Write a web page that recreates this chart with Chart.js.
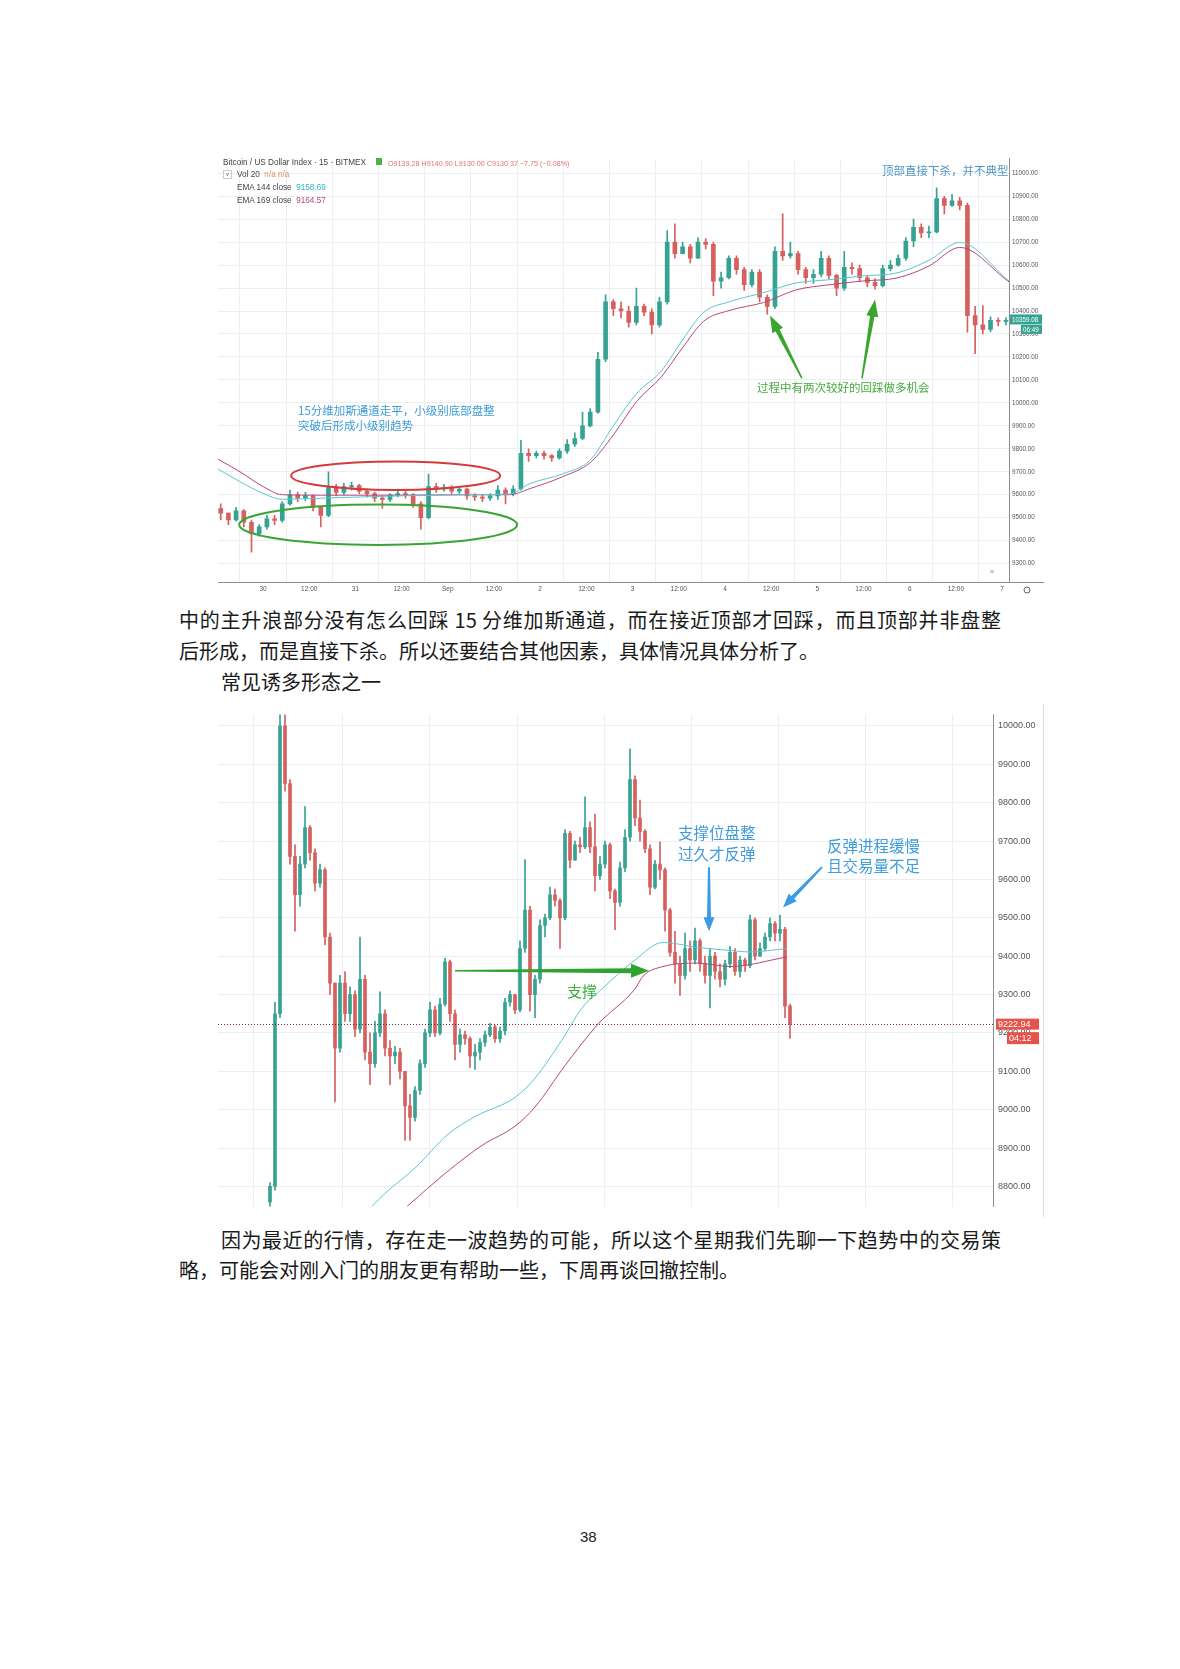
<!DOCTYPE html>
<html>
<head>
<meta charset="utf-8">
<script src="https://cdn.jsdelivr.net/npm/chart.js@4.4.0/dist/chart.umd.min.js"></script>
<style>
  body { margin: 0; background: #fff; width: 1180px; height: 1669px; position: relative; overflow: hidden;
         font-family: "Noto Sans CJK SC", sans-serif; }
  .abs { position: absolute; white-space: nowrap; }
  .para { font-size: 20px; line-height: 20px; color: #1a1a1a; }
  .just { text-align: justify; text-align-last: justify; }
  .hdr { font-family: "Liberation Sans", sans-serif; font-size: 8.2px; line-height: 9px; color: #444; }
  .note1 { font-size: 11.5px; line-height: 12px; }
  .note2 { font-size: 15.5px; line-height: 16px; }
  .box { position: absolute; }
</style>
</head>
<body>

<!-- chart 1 -->
<div class="box" style="left:218px; top:152px; width:826px; height:445px;"><canvas id="btc"></canvas></div>
<div class="abs hdr" style="left:223px; top:158px;">Bitcoin / US Dollar Index · 15 · BITMEX</div>
<div class="abs" style="left:376px; top:158px; width:6px; height:7px; background:#4caf50;"></div>
<div class="abs hdr" style="left:388px; top:159px; font-size:7.2px; color:#e07272;">O9139.28 H9140.90 L9130.00 C9130.37 −7.75 (−0.08%)</div>
<div class="abs" style="left:223px; top:170px; width:7px; height:7px; border:1px solid #ccc; font:6px 'Liberation Sans'; line-height:7px; text-align:center; color:#666;">v</div>
<div class="abs hdr" style="left:237px; top:170px;">Vol 20 <span style="color:#e08c5a;">&nbsp;n/a n/a</span></div>
<div class="abs hdr" style="left:237px; top:183px;">EMA 144 close <span style="color:#2bb3c0;">&nbsp;9158.69</span></div>
<div class="abs hdr" style="left:237px; top:196px;">EMA 169 close <span style="color:#b4457c;">&nbsp;9164.57</span></div>
<div class="abs note1" style="left:882px; top:164px; color:#4f96c8;">顶部直接下杀，并不典型</div>
<div class="abs note1" style="left:298px; top:404px; color:#3d9bd6;">15分维加斯通道走平，小级别底部盘整</div>
<div class="abs note1" style="left:298px; top:419px; color:#3d9bd6;">突破后形成小级别趋势</div>
<div class="abs note1" style="left:757px; top:381px; color:#45ad3e;">过程中有两次较好的回踩做多机会</div>

<!-- text between charts -->
<div class="abs para just" style="left:179px; top:610px; width:822px;">中的主升浪部分没有怎么回踩 15 分维加斯通道，而在接近顶部才回踩，而且顶部并非盘整</div>
<div class="abs para" style="left:179px; top:641px;">后形成，而是直接下杀。所以还要结合其他因素，具体情况具体分析了。</div>
<div class="abs para" style="left:221px; top:672px;">常见诱多形态之一</div>

<!-- chart 2 -->
<div class="box" style="left:218px; top:704px; width:826px; height:513px;"><canvas id="eth"></canvas></div>
<div class="abs note2" style="left:678px; top:824px; color:#3f9ddc;">支撑位盘整</div>
<div class="abs note2" style="left:678px; top:845px; color:#3f9ddc;">过久才反弹</div>
<div class="abs note2" style="left:827px; top:837px; color:#3f9ddc;">反弹进程缓慢</div>
<div class="abs note2" style="left:827px; top:857px; color:#3f9ddc;">且交易量不足</div>
<div class="abs note2" style="left:567px; top:983px; color:#3cae3c; font-size:15px;">支撑</div>

<!-- text below -->
<div class="abs para just" style="left:221px; top:1230px; width:780px;">因为最近的行情，存在走一波趋势的可能，所以这个星期我们先聊一下趋势中的交易策</div>
<div class="abs para" style="left:179px; top:1260px;">略，可能会对刚入门的朋友更有帮助一些，下周再谈回撤控制。</div>
<div class="abs" style="left:580px; top:1528px; font:15px 'Liberation Sans'; color:#222;">38</div>

<script>
// ---- chart 1: BTC, 2h samples, x = hours since Aug 30 00:00 (first candle at -11h) ----
const btcClose = [9520, 9490, 9530, 9480, 9430, 9460, 9495, 9488, 9560, 9600,
  9585, 9595, 9545, 9510, 9635, 9610, 9635, 9640, 9615, 9605,
  9585, 9580, 9600, 9605, 9600, 9560, 9500, 9635, 9625, 9630,
  9615, 9625, 9595, 9590, 9585, 9595, 9620, 9605, 9625, 9780,
  9770, 9780, 9770, 9760, 9790, 9820, 9845, 9900, 9960, 10190,
  10440, 10410, 10400, 10350, 10420, 10395, 10340, 10440, 10700, 10650,
  10680, 10630, 10700, 10690, 10530, 10545, 10630, 10580, 10515, 10570,
  10460, 10420, 10660, 10640, 10650, 10580, 10545, 10560, 10630, 10555,
  10500, 10590, 10585, 10545, 10525, 10510, 10585, 10600, 10630, 10705,
  10765, 10740, 10745, 10890, 10860, 10880, 10860, 10380, 10340, 10320,
  10360, 10355, 10359.08];
const btcHigh = [9560, 9520, 9545, 9535, 9490, 9470, 9510, 9510, 9570, 9620,
  9612, 9610, 9600, 9550, 9700, 9645, 9650, 9655, 9645, 9625,
  9612, 9595, 9605, 9625, 9615, 9605, 9570, 9690, 9650, 9645,
  9640, 9635, 9630, 9605, 9600, 9605, 9640, 9630, 9640, 9837,
  9800, 9790, 9790, 9775, 9800, 9840, 9870, 9960, 9975, 10220,
  10470, 10450, 10440, 10420, 10500, 10430, 10410, 10460, 10750, 10780,
  10700, 10690, 10720, 10715, 10700, 10570, 10640, 10640, 10590, 10580,
  10580, 10470, 10680, 10823, 10700, 10660, 10590, 10580, 10660, 10640,
  10560, 10660, 10610, 10600, 10555, 10540, 10600, 10620, 10645, 10720,
  10800, 10780, 10770, 10937, 10900, 10908, 10895, 10870, 10420, 10424,
  10375, 10370, 10372];
const btcLow = [9490, 9470, 9485, 9460, 9350, 9420, 9450, 9470, 9480, 9555,
  9570, 9575, 9530, 9460, 9505, 9595, 9600, 9620, 9605, 9590,
  9570, 9540, 9570, 9590, 9585, 9545, 9450, 9495, 9610, 9615,
  9605, 9605, 9580, 9575, 9570, 9575, 9580, 9560, 9595, 9620,
  9745, 9760, 9755, 9745, 9755, 9780, 9810, 9840, 9895, 9955,
  10180, 10380, 10370, 10330, 10340, 10380, 10300, 10330, 10430, 10630,
  10650, 10610, 10630, 10670, 10467, 10500, 10540, 10560, 10490, 10505,
  10440, 10386, 10410, 10620, 10630, 10560, 10520, 10520, 10550, 10540,
  10467, 10490, 10560, 10530, 10505, 10495, 10505, 10575, 10595, 10620,
  10680, 10720, 10720, 10740, 10823, 10855, 10840, 10308, 10214, 10300,
  10310, 10335, 10340];
const btcFirstOpen = 9540;
const btcEmaHours = [-11.7, -6, 0, 5, 15, 35.6, 54, 64, 69.4, 77.9, 85, 91, 97, 103.6, 108.8, 114.5, 121.3, 130, 138.7, 147, 156, 164.7, 173, 181, 193.8];
const btcEma144 = [9712, 9657, 9606, 9580, 9585, 9595, 9600, 9603, 9649, 9691, 9751, 9900, 10040, 10141, 10270, 10394, 10441, 10480, 10523, 10536, 10553, 10566, 10621, 10699, 10531];
const btcEma169 = [9755, 9700, 9636, 9600, 9598, 9598, 9600, 9600, 9627, 9679, 9740, 9860, 10005, 10116, 10236, 10356, 10403, 10437, 10493, 10514, 10531, 10544, 10596, 10677, 10527];
const btcTickHours = [0, 12, 24, 36, 48, 60, 72, 84, 96, 108, 120, 132, 144, 156, 168, 180, 192];
const btcTickLabels = ['30', '12:00', '31', '12:00', 'Sep', '12:00', '2', '12:00', '3', '12:00', '4', '12:00', '5', '12:00', '6', '12:00', '7'];
const btcPriceTicks = [9300, 9400, 9500, 9600, 9700, 9800, 9900, 10000, 10100, 10200, 10300, 10400, 10500, 10600, 10700, 10800, 10900, 11000];

// ---- chart 2: candle index, grid times ----
const ethClose = [8800, 9250, 10000, 9850, 9660, 9560, 9640, 9735, 9670, 9590,
  9625, 9450, 9330, 9160, 9330, 9250, 9300, 9210, 9340, 9150,
  9120, 9200, 9250, 9160, 9140, 9150, 9100, 9010, 8980, 9050,
  9120, 9200, 9260, 9200, 9275, 9385, 9250, 9170, 9195, 9185,
  9140, 9150, 9175, 9195, 9215, 9185, 9205, 9280, 9300, 9260,
  9420, 9520, 9300, 9340, 9480, 9500, 9560, 9545, 9500, 9720,
  9650, 9690, 9685, 9735, 9685, 9610, 9640, 9690, 9570, 9540,
  9630, 9710, 9860, 9760, 9725, 9680, 9580, 9640, 9625, 9520,
  9410, 9380, 9350, 9420, 9390, 9440, 9380, 9350, 9400, 9360,
  9340, 9380, 9410, 9360, 9390, 9375, 9495, 9400, 9420, 9450,
  9485, 9460, 9470, 9270, 9222.94];
const ethHigh = [8810, 9280, 10040, 10030, 9860, 9690, 9660, 9790, 9740, 9680,
  9640, 9630, 9460, 9330, 9350, 9360, 9320, 9310, 9450, 9350,
  9200, 9230, 9307, 9260, 9180, 9165, 9160, 9100, 9040, 9060,
  9130, 9210, 9280, 9270, 9290, 9395, 9390, 9260, 9210, 9205,
  9190, 9170, 9185, 9205, 9225, 9220, 9215, 9290, 9310, 9300,
  9440, 9652, 9530, 9350, 9495, 9510, 9580, 9575, 9550, 9730,
  9725, 9700, 9710, 9815, 9750, 9770, 9660, 9700, 9695, 9575,
  9645, 9730, 9940, 9870, 9807, 9730, 9690, 9650, 9698, 9630,
  9525, 9465, 9400, 9460, 9440, 9473, 9445, 9400, 9420, 9410,
  9380, 9390, 9425, 9420, 9400, 9395, 9507, 9500, 9435, 9460,
  9500, 9490, 9507, 9475, 9275];
const ethLow = [8745, 8790, 9240, 9830, 9640, 9465, 9530, 9630, 9650, 9570,
  9580, 9430, 9300, 9020, 9150, 9230, 9230, 9190, 9200, 9130,
  9065, 9110, 9190, 9140, 9065, 9120, 9080, 8920, 8920, 8970,
  9040, 9110, 9190, 9190, 9195, 9270, 9230, 9130, 9150, 9170,
  9110, 9105, 9130, 9165, 9190, 9175, 9175, 9195, 9270, 9250,
  9255, 9410, 9257, 9240, 9330, 9450, 9495, 9530, 9420, 9495,
  9630, 9650, 9670, 9680, 9670, 9570, 9600, 9630, 9550, 9469,
  9530, 9620, 9700, 9740, 9700, 9670, 9560, 9575, 9600, 9465,
  9400, 9330, 9298, 9340, 9360, 9380, 9360, 9330, 9265, 9340,
  9320, 9325, 9370, 9350, 9345, 9360, 9370, 9390, 9400, 9415,
  9440, 9440, 9440, 9240, 9186];
const ethFirstOpen = 8760;
const ethEma144X = [20.4, 23, 29, 35.6, 41, 49, 53, 58.4, 62.4, 66.4, 73, 78.6, 85.4, 92, 96, 103.4];
const ethEma144 = [8748, 8782, 8848, 8936, 8982, 9032, 9082, 9182, 9265, 9315, 9390, 9436, 9423, 9415, 9411, 9420];
const ethEma169X = [27.4, 35.6, 42.4, 49, 53, 59, 65.6, 73, 74.6, 78.6, 85.4, 92, 103.4];
const ethEma169 = [8748, 8840, 8907, 8957, 9007, 9115, 9223, 9315, 9348, 9373, 9382, 9373, 9398];
const ethGridX = [5.6, 23.2, 40.6, 58.2, 75.4, 93, 110.4, 127.8];
const ethPriceTicks = [8800, 8900, 9000, 9100, 9200, 9300, 9400, 9500, 9600, 9700, 9800, 9900, 10000];

const upColor = '#35a292';
const downColor = '#d5605e';
Chart.defaults.font.family = 'Liberation Sans';

// open = previous close
function buildCandles(closes, highs, lows, firstOpen, xOf) {
  let bodies = [], wicks = [], colors = [];
  closes.forEach((c, i) => {
    let o = i === 0 ? firstOpen : closes[i - 1];
    let x = xOf(i);
    bodies.push({ x: x, y: [o, c] });
    wicks.push({ x: x, y: [Math.min(lows[i], o, c), Math.max(highs[i], o, c)] });
    colors.push(c >= o ? upColor : downColor);
  });
  return { bodies, wicks, colors };
}

function drawArrow(ctx, x1, y1, x2, y2, w0, w1, headW, headL, color) {
  let dx = x2 - x1, dy = y2 - y1, len = Math.hypot(dx, dy);
  let ux = dx / len, uy = dy / len, nx = -uy, ny = ux;
  let bx = x2 - ux * headL, by = y2 - uy * headL;
  ctx.beginPath();
  ctx.moveTo(x1 + nx * w0 / 2, y1 + ny * w0 / 2);
  ctx.lineTo(bx + nx * w1 / 2, by + ny * w1 / 2);
  ctx.lineTo(bx + nx * headW / 2, by + ny * headW / 2);
  ctx.lineTo(x2, y2);
  ctx.lineTo(bx - nx * headW / 2, by - ny * headW / 2);
  ctx.lineTo(bx - nx * w1 / 2, by - ny * w1 / 2);
  ctx.lineTo(x1 - nx * w0 / 2, y1 - ny * w0 / 2);
  ctx.closePath();
  ctx.fillStyle = color;
  ctx.fill();
}

// ellipse from a data box (x range, y range)
function drawEllipse(ctx, xs, ys, h1, h2, p1, p2, color) {
  let cx = (xs.getPixelForValue(h1) + xs.getPixelForValue(h2)) / 2;
  let cy = (ys.getPixelForValue(p1) + ys.getPixelForValue(p2)) / 2;
  let rx = Math.abs(xs.getPixelForValue(h2) - xs.getPixelForValue(h1)) / 2;
  let ry = Math.abs(ys.getPixelForValue(p2) - ys.getPixelForValue(p1)) / 2;
  ctx.beginPath();
  ctx.ellipse(cx, cy, rx, ry, 0, 0, Math.PI * 2);
  ctx.strokeStyle = color;
  ctx.lineWidth = 2;
  ctx.stroke();
}

function priceBox(ctx, left, yMid, w, h, color, text, size) {
  ctx.fillStyle = color;
  ctx.fillRect(left, yMid - h / 2, w, h);
  ctx.fillStyle = '#fff';
  ctx.font = size + 'px "Liberation Sans"';
  ctx.textAlign = 'left';
  ctx.textBaseline = 'middle';
  ctx.fillText(text, left + 2, yMid + 0.5);
}

// ---------- chart 1 ----------
let btc = buildCandles(btcClose, btcHigh, btcLow, btcFirstOpen, i => -11 + 2 * i);

const btcOverlay = {
  id: 'btcOverlay',
  afterDatasetsDraw(chart) {
    let ctx = chart.ctx, x = chart.scales.x, y = chart.scales.y;
    ctx.save();
    drawEllipse(ctx, x, y, 7.3, 61.6, 9621, 9745, '#d43b3b');
    drawEllipse(ctx, x, y, -6.2, 66, 9381, 9557, '#3aa535');
    drawArrow(ctx, x.getPixelForValue(140), y.getPixelForValue(10107), x.getPixelForValue(131.7), y.getPixelForValue(10381), 1.5, 4.5, 12, 17, '#3aa52e');
    drawArrow(ctx, x.getPixelForValue(155.6), y.getPixelForValue(10107), x.getPixelForValue(159), y.getPixelForValue(10450), 1.5, 4.5, 12, 17, '#3aa52e');
    ctx.restore();
  },
  afterDraw(chart) {
    let ctx = chart.ctx, y = chart.scales.y, area = chart.chartArea;
    ctx.save();
    // axis line under price column
    ctx.strokeStyle = '#8a8e96';
    ctx.lineWidth = 1;
    ctx.beginPath();
    ctx.moveTo(area.right, area.bottom + 0.5);
    ctx.lineTo(chart.width, area.bottom + 0.5);
    ctx.stroke();
    let last = btcClose[btcClose.length - 1];
    let py = y.getPixelForValue(last);
    priceBox(ctx, area.right + 1, py - 1, 32, 10, upColor, last.toFixed(2), 6.3);
    priceBox(ctx, area.right + 12, py + 9, 21, 9, upColor, '06:49', 6.3);
    // gear + scroll icon
    ctx.strokeStyle = '#666';
    ctx.beginPath();
    ctx.arc(area.right + 18, area.bottom + 8, 3, 0, Math.PI * 2);
    ctx.stroke();
    ctx.fillStyle = '#999';
    ctx.font = '9px "DejaVu Sans"';
    ctx.textAlign = 'center';
    ctx.textBaseline = 'middle';
    ctx.fillText('»', area.right - 17, area.bottom - 10);
    ctx.restore();
  }
};

new Chart(document.getElementById('btc'), {
  type: 'bar',
  data: {
    datasets: [
      { type: 'line', data: btcEmaHours.map((h, i) => ({ x: h, y: btcEma144[i] })), borderColor: '#5cc6cf', borderWidth: 1, pointRadius: 0, cubicInterpolationMode: 'monotone', order: 0 },
      { type: 'line', data: btcEmaHours.map((h, i) => ({ x: h, y: btcEma169[i] })), borderColor: '#b5477d', borderWidth: 1, pointRadius: 0, cubicInterpolationMode: 'monotone', order: 0 },
      { data: btc.wicks, backgroundColor: btc.colors, barThickness: 1, grouped: false, order: 2 },
      { data: btc.bodies, backgroundColor: btc.colors, barThickness: 4, minBarLength: 1, grouped: false, order: 1 }
    ]
  },
  options: {
    animation: false,
    responsive: true,
    maintainAspectRatio: false,
    layout: { padding: 0 },
    plugins: { legend: { display: false }, tooltip: { enabled: false } },
    scales: {
      x: {
        type: 'linear', min: -11.7, max: 193.8, offset: false,
        afterBuildTicks: s => { s.ticks = btcTickHours.map(v => ({ value: v })); },
        afterFit: s => { s.height = 15; },
        ticks: { callback: v => btcTickLabels[btcTickHours.indexOf(v)], autoSkip: false, maxRotation: 0,
                 font: { size: 6.5 }, color: '#555', padding: 3 },
        grid: { color: '#eceef2', drawTicks: false },
        border: { color: '#8a8e96' }
      },
      y: {
        position: 'right', min: 9220, max: 11063,
        afterBuildTicks: s => { s.ticks = btcPriceTicks.map(v => ({ value: v })); },
        afterFit: s => { s.width = 35; },
        ticks: { callback: v => v.toFixed(2), font: { size: 6.3 }, color: '#555', padding: 3 },
        grid: { color: '#eceef2', drawTicks: false },
        border: { color: '#8a8e96' }
      }
    }
  },
  plugins: [btcOverlay]
});

// ---------- chart 2 ----------
let eth = buildCandles(ethClose, ethHigh, ethLow, ethFirstOpen, i => i);

const ethOverlay = {
  id: 'ethOverlay',
  afterDatasetsDraw(chart) {
    let ctx = chart.ctx, x = chart.scales.x, y = chart.scales.y, area = chart.chartArea;
    ctx.save();
    let last = ethClose[ethClose.length - 1];
    let py = Math.round(y.getPixelForValue(last)) + 0.5;
    ctx.strokeStyle = '#7a2a2a';
    ctx.lineWidth = 1;
    ctx.setLineDash([1, 2]);
    ctx.beginPath();
    ctx.moveTo(area.left, py);
    ctx.lineTo(area.right, py);
    ctx.stroke();
    ctx.setLineDash([]);
    drawArrow(ctx, x.getPixelForValue(37), y.getPixelForValue(9362), x.getPixelForValue(75.8), y.getPixelForValue(9362), 1.5, 5, 14, 18, '#2ea42e');
    drawArrow(ctx, x.getPixelForValue(87.8), y.getPixelForValue(9632), x.getPixelForValue(87.8), y.getPixelForValue(9465), 2, 4, 11, 14, '#3a9be6');
    drawArrow(ctx, x.getPixelForValue(110.4), y.getPixelForValue(9632), x.getPixelForValue(102.6), y.getPixelForValue(9527), 2, 4, 11, 14, '#3a9be6');
    ctx.restore();
  },
  afterDraw(chart) {
    let ctx = chart.ctx, y = chart.scales.y, area = chart.chartArea;
    ctx.save();
    let last = ethClose[ethClose.length - 1];
    let py = y.getPixelForValue(last);
    priceBox(ctx, area.right + 3, py, 43, 11, '#e5534b', last.toFixed(2), 9);
    priceBox(ctx, area.right + 14, py + 14, 32, 12, '#e5534b', '04:12', 9);
    ctx.strokeStyle = '#d8dbe0';
    ctx.beginPath();
    ctx.moveTo(chart.width - 0.5, 0);
    ctx.lineTo(chart.width - 0.5, chart.height);
    ctx.stroke();
    ctx.restore();
  }
};

new Chart(document.getElementById('eth'), {
  type: 'bar',
  data: {
    datasets: [
      { type: 'line', data: ethEma144X.map((v, i) => ({ x: v, y: ethEma144[i] })), borderColor: '#5cc6cf', borderWidth: 1, pointRadius: 0, cubicInterpolationMode: 'monotone', order: 0 },
      { type: 'line', data: ethEma169X.map((v, i) => ({ x: v, y: ethEma169[i] })), borderColor: '#b5477d', borderWidth: 1, pointRadius: 0, cubicInterpolationMode: 'monotone', order: 0 },
      { data: eth.wicks, backgroundColor: eth.colors, barThickness: 1, grouped: false, order: 2 },
      { data: eth.bodies, backgroundColor: eth.colors, barThickness: 3, minBarLength: 1, grouped: false, order: 1 }
    ]
  },
  options: {
    animation: false,
    responsive: true,
    maintainAspectRatio: false,
    layout: { padding: 0 },
    plugins: { legend: { display: false }, tooltip: { enabled: false } },
    scales: {
      x: {
        type: 'linear', min: -10.4, max: 144.6, offset: false,
        afterBuildTicks: s => { s.ticks = ethGridX.map(v => ({ value: v })); },
        afterFit: s => { s.height = 0; },
        ticks: { display: false },
        grid: { color: '#eceef2', drawTicks: false },
        border: { display: false }
      },
      y: {
        position: 'right', min: 8747.5, max: 10030,
        afterBuildTicks: s => { s.ticks = ethPriceTicks.map(v => ({ value: v })); },
        afterFit: s => { s.width = 51; },
        ticks: { callback: v => v.toFixed(2), font: { size: 9 }, color: '#555', padding: 5 },
        grid: { color: '#eceef2', drawTicks: false },
        border: { color: '#8a8e96' }
      }
    }
  },
  plugins: [ethOverlay]
});
</script>
</body>
</html>
